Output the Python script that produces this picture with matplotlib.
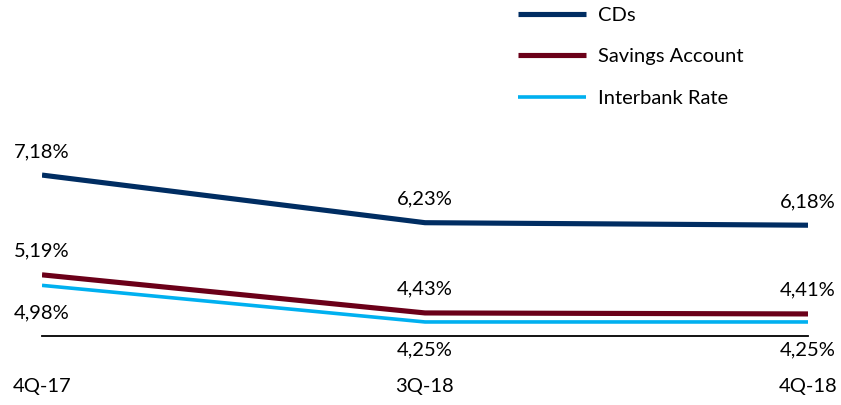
import matplotlib
matplotlib.use('Agg')
import matplotlib.pyplot as plt

# ── Data ──────────────────────────────────────────────────────
quarters   = ['4Q-17', '3Q-18', '4Q-18']
cds        = [7.18, 6.23, 6.18]
savings    = [5.19, 4.43, 4.41]
interbank  = [4.98, 4.25, 4.25]

plt.rcParams['font.family'] = ['Lato', 'DejaVu Sans']

fig = plt.figure(figsize=(8.41, 4.05), dpi=100)
ax = fig.add_axes([42 / 841, 1 - 336 / 405, (808 - 42) / 841, (336 - 150) / 405])

x = list(range(len(quarters)))
ax.plot(x, cds, color='#002D62', linewidth=3.7, label='CDs', solid_capstyle='butt')
ax.plot(x, savings, color='#6B0019', linewidth=3.7, label='Savings Account', solid_capstyle='butt')
ax.plot(x, interbank, color='#00B0F0', linewidth=2.6, label='Interbank Rate', solid_capstyle='butt')

def fmt(v):
    return f'{v:.2f}%'.replace('.', ',')

fs = 14.5
for xi, v in zip(x, cds):
    ax.annotate(fmt(v), (xi, v), xytext=(0, 17), textcoords='offset points',
                ha='center', va='center', fontsize=fs)
for xi, v in zip(x, savings):
    ax.annotate(fmt(v), (xi, v), xytext=(0, 17), textcoords='offset points',
                ha='center', va='center', fontsize=fs)
for xi, v in zip(x, interbank):
    ax.annotate(fmt(v), (xi, v), xytext=(0, -20), textcoords='offset points',
                ha='center', va='center', fontsize=fs)

ax.set_xlim(0, 2)
ax.set_ylim(3.97, 7.68)
ax.set_xticks(x)
ax.set_xticklabels(quarters, fontsize=fs)
ax.tick_params(axis='x', length=0, pad=30)
ax.set_yticks([])
for s in ['top', 'right', 'left']:
    ax.spines[s].set_visible(False)
ax.spines['bottom'].set_linewidth(1.3)
ax.spines['bottom'].set_color('black')

fig.legend(loc='upper left', bbox_to_anchor=(518 / 841, 1 - 7 / 405), frameon=False,
           fontsize=fs, handlelength=3.4, handletextpad=0.55, labelspacing=1.2,
           borderpad=0, borderaxespad=0)

plt.savefig('out.png', dpi=100)
plt.close()
print("Saved out.png")
